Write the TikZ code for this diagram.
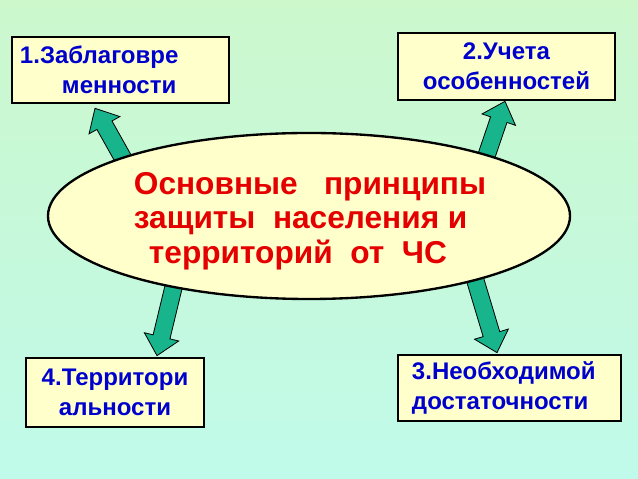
\documentclass[tikz,border=0pt]{standalone}
\usepackage{fontspec}
\setmainfont{Liberation Sans}
\usetikzlibrary{shapes.geometric,calc,backgrounds}
\definecolor{pale}{RGB}{255,255,204}
\definecolor{sea}{RGB}{24,180,140}
\definecolor{titlered}{RGB}{228,0,0}
\definecolor{itemblue}{RGB}{0,0,204}
\definecolor{bgtop}{RGB}{204,248,204}
\definecolor{bgbottom}{RGB}{192,250,234}
\newcommand\fatarrow[2]{%
  \coordinate (#2-h) at ($(#2)!0.58cm!(#1)$);
  \filldraw[arrowbody] ($(#1)!0.26cm!90:(#2)$)
    -- ($(#2-h)!0.26cm!-90:(#1)$)
    -- ($(#2-h)!0.53cm!-90:(#1)$)
    -- (#2)
    -- ($(#2-h)!0.53cm!90:(#1)$)
    -- ($(#2-h)!0.26cm!90:(#1)$)
    -- ($(#1)!0.26cm!-90:(#2)$) -- cycle;}

\begin{document}
\begin{tikzpicture}[
  x=0.03cm,y=0.03cm,
  item/.style={draw,line width=2.3pt,fill=pale,text=itemblue,inner sep=0pt,
    font=\fontsize{20.5}{25.6}\selectfont\bfseries},
  core/.style={ellipse,draw,line width=2pt,fill=pale,
    minimum width=15.66cm,minimum height=4.98cm,inner sep=0pt},
  title/.style={text=titlered,align=left,inner sep=0pt,
    font=\fontsize{27}{29.5}\selectfont\bfseries},
  arrowbody/.style={fill=sea,draw=black,line width=0.7pt,line join=miter}
]
  \useasboundingbox (0,0) rectangle (638,479);
  \node[core] (core) at (309,263) {};
  \node[title] (coretext) at ($(core.center)+(1,-5)$)
    {Основные~~~принципы\\защиты~~населения и\\\hspace*{0.45cm}территорий~~от~~ЧС};
  \node[item,minimum width=6.51cm,minimum height=1.98cm,text width=6.03cm,align=left]
    (advance) at (120.5,409) {1.Заблаговре\\\hspace*{1.26cm}менности};
  \node[item,minimum width=6.51cm,minimum height=2.01cm,align=center]
    (features) at (506.5,412.5) {2.Учета\\особенностей};
  \node[item,minimum width=6.69cm,minimum height=1.98cm,text width=5.85cm,align=left]
    (sufficiency) at (509.5,91) {3.Необходимой\\достаточности};
  \node[item,minimum width=5.34cm,minimum height=2.07cm,align=center]
    (territory) at (115,86.5) {4.Территори\\альности};

  \begin{scope}[on background layer]
    \fill[top color=bgtop,bottom color=bgbottom] (0,0) rectangle (638,479);
    \coordinate (s1) at ($(core.center)+(-180,47)$);
    \coordinate (t1) at ($(advance.south)+(-25.5,-4)$);
    \coordinate (s2) at ($(core.center)+(174,50)$);
    \coordinate (t2) at ($(features.south)+(-1.5,0)$);
    \coordinate (s3) at ($(core.center)+(165,-60)$);
    \coordinate (t3) at ($(sufficiency.north)+(-12.5,1)$);
    \coordinate (s4) at ($(core.center)+(-134,-65)$);
    \coordinate (t4) at ($(territory.north)+(42,1)$);
    \fatarrow{s1}{t1}
    \fatarrow{s2}{t2}
    \fatarrow{s3}{t3}
    \fatarrow{s4}{t4}
  \end{scope}
\end{tikzpicture}
\end{document}
